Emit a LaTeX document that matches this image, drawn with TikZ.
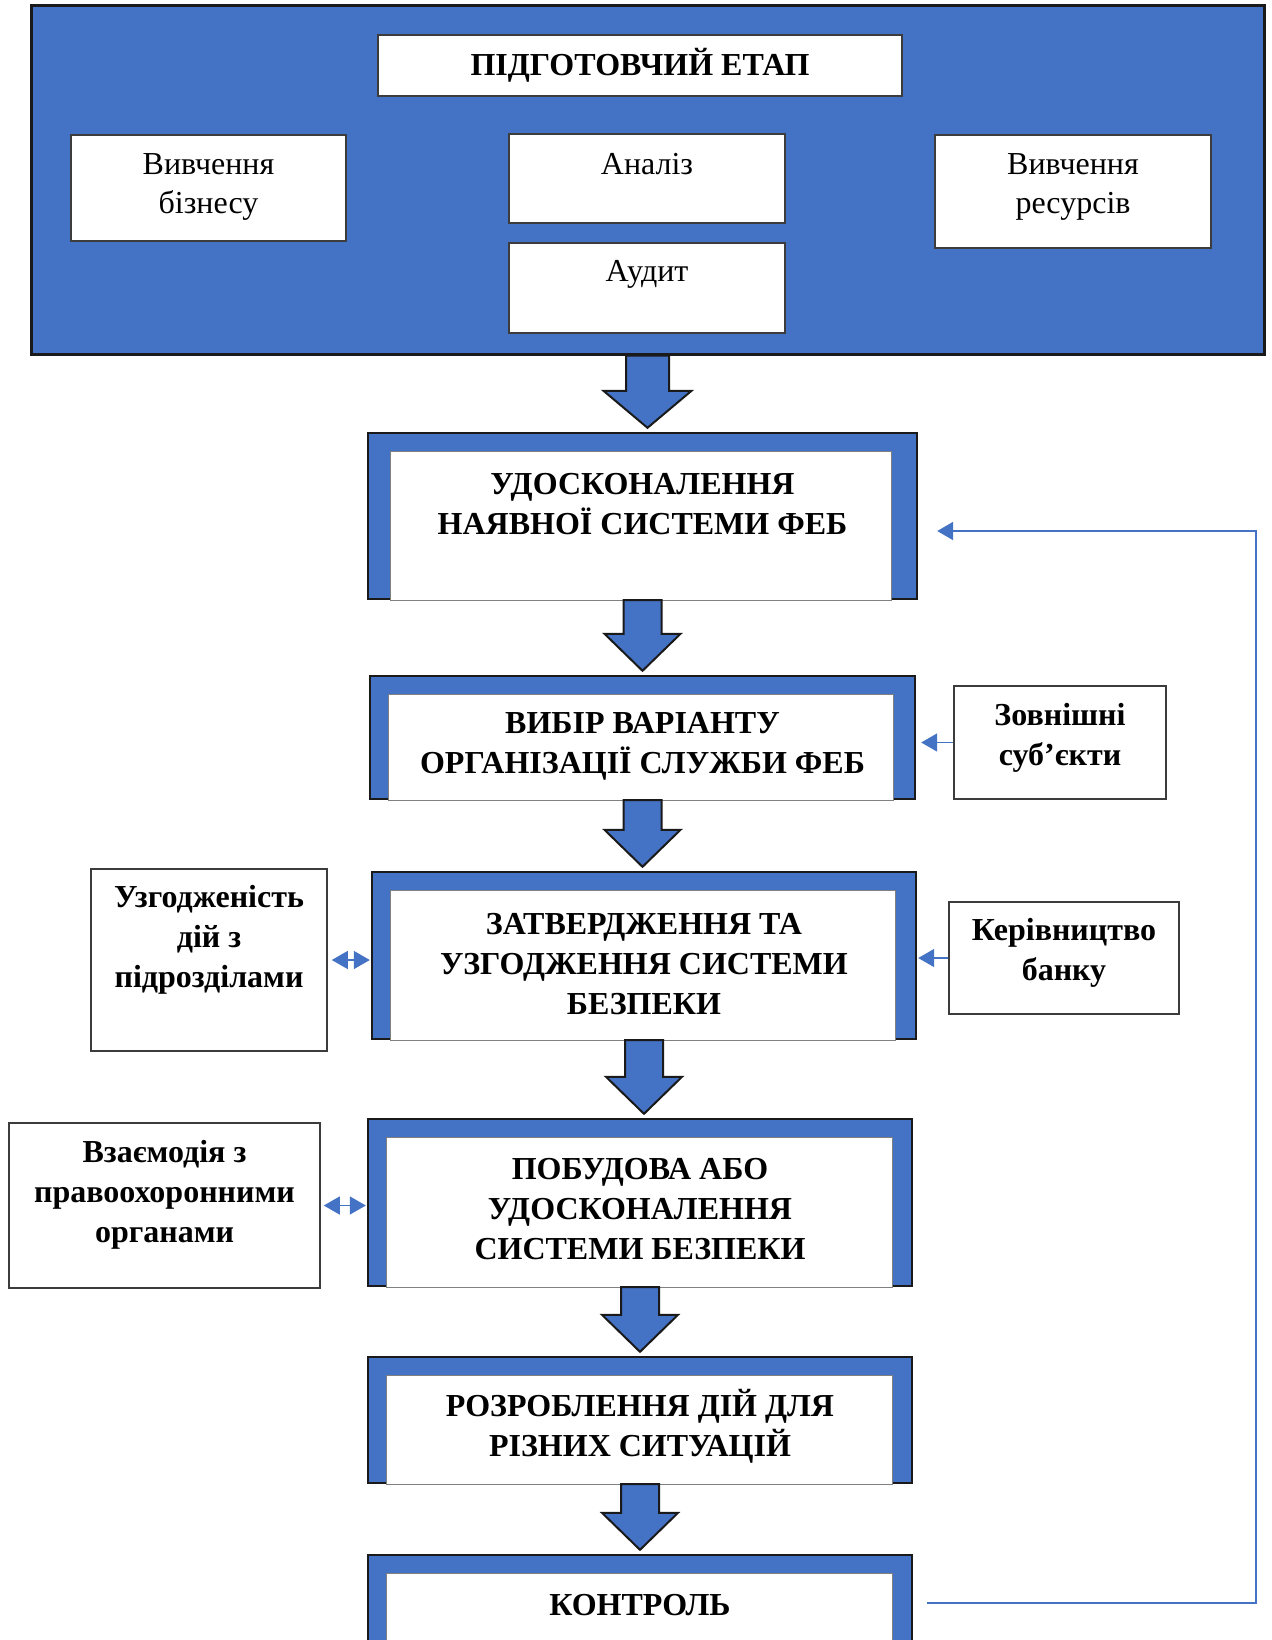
\documentclass[tikz,border=0pt]{standalone}
\usepackage{fontspec}
\setmainfont{Liberation Serif}
\usetikzlibrary{calc,arrows.meta}
\definecolor{ofblue}{HTML}{4472C4}
\definecolor{edge}{HTML}{1A1A1A}
\newcommand{\framein}[3]{\draw[draw=gray,line width=0.5pt,fill=white] ($(#1.south west)+(#2,0)$) rectangle ($(#1.north east)+(-#3,20)$);}
\newcommand{\blockarrow}[4]{%
 \draw[barrow] let \p1=(#1.south), \p2=(#2.north) in
  (\x1-#3pt,\y1) -- (\x1-#3pt,\y2+20.5pt) -- (\x1-#4pt,\y2+20.5pt) -- (\x1,\y2+2pt) -- (\x1+#4pt,\y2+20.5pt) -- (\x1+#3pt,\y2+20.5pt) -- (\x1+#3pt,\y1) -- cycle;}
\begin{document}
\begin{tikzpicture}[x=0.5pt,y=-0.5pt,
  bigbox/.style={draw=edge,line width=1.5pt,fill=ofblue,inner sep=0pt},
  wbox/.style={draw=edge!85,line width=0.8pt,fill=white,inner sep=0pt},
  frame/.style={draw=edge,line width=1.2pt,fill=ofblue,inner sep=0pt},
  plain/.style={font=\fontsize{16}{19.5}\selectfont,align=center,inner sep=0pt},
  bold/.style={font=\fontsize{16}{20}\selectfont\bfseries,align=center,inner sep=0pt},
  barrow/.style={draw=edge,line width=1pt,fill=ofblue,line join=miter},
  sarrow/.style={draw=ofblue,line width=0.75pt,-{Triangle[length=8pt,width=9pt]}},
  darrow/.style={draw=ofblue,line width=0.75pt,{Triangle[length=8pt,width=9pt]}-{Triangle[length=8pt,width=9pt]}},
  fback/.style={draw=ofblue,line width=1.1pt,-{Triangle[length=8pt,width=9pt]}},
]
\useasboundingbox (0,0) rectangle (1272,1640);
\clip (0,0) rectangle (1272,1640);
\fill[white] (0,0) rectangle (1272,1640);

% preparatory stage
\node[bigbox,minimum width=616.5pt,minimum height=174.5pt] (prep) at (647.5,179.5) {};
\node[wbox,minimum width=262pt,minimum height=30.5pt] (title) at (640,65.5) {};
\node[bold] (titlet) at (640,65) {ПІДГОТОВЧИЙ ЕТАП};
\node[wbox,minimum width=137.5pt,minimum height=53pt] (bus) at (208.5,188) {};
\node[plain] (bust) at (208.5,186.5) {Вивчення\\бізнесу};
\node[wbox,minimum width=138pt,minimum height=44.5pt] (an) at (647,178.5) {};
\node[plain] (ant) at (647,164) {Аналіз};
\node[wbox,minimum width=138pt,minimum height=45pt] (au) at (647,288) {};
\node[plain] (aut) at (647,274) {Аудит};
\node[wbox,minimum width=138pt,minimum height=56.5pt] (res) at (1073,191.5) {};
\node[plain] (rest) at (1073,186.5) {Вивчення\\ресурсів};

% main chain
\node[frame,minimum width=274.5pt,minimum height=83pt] (b1) at (642.5,516) {};
\framein{b1}{24}{27}
\node[bold] (b1t) at (642.5,504) {УДОСКОНАЛЕННЯ\\НАЯВНОЇ СИСТЕМИ ФЕБ};

\node[frame,minimum width=272.5pt,minimum height=61.5pt] (b2) at (642.5,737.5) {};
\framein{b2}{20}{23}
\node[bold] (b2t) at (642.5,746) {ВИБІР ВАРІАНТУ\\ОРГАНІЗАЦІЇ СЛУЖБИ ФЕБ};

\node[frame,minimum width=272pt,minimum height=83.5pt] (b3) at (644,955.5) {};
\framein{b3}{20}{22}
\node[bold] (b3t) at (644,964) {ЗАТВЕРДЖЕННЯ ТА\\УЗГОДЖЕННЯ СИСТЕМИ\\БЕЗПЕКИ};

\node[frame,minimum width=272pt,minimum height=83.5pt] (b4) at (640,1202.5) {};
\framein{b4}{20}{21}
\node[bold] (b4t) at (640,1209) {ПОБУДОВА АБО\\УДОСКОНАЛЕННЯ\\СИСТЕМИ БЕЗПЕКИ};

\node[frame,minimum width=272pt,minimum height=63pt] (b5) at (640,1420) {};
\framein{b5}{20}{21}
\node[bold] (b5t) at (640,1426) {РОЗРОБЛЕННЯ ДІЙ ДЛЯ\\РІЗНИХ СИТУАЦІЙ};

\node[frame,minimum width=272pt,minimum height=72.5pt] (b6) at (640,1627.5) {};
\framein{b6}{20}{21}
\node[bold] (b6t) at (640,1605) {КОНТРОЛЬ};

% side boxes
\node[wbox,minimum width=106pt,minimum height=56.5pt] (z) at (1060,742.5) {};
\node[bold] (zt) at (1060,737.5) {Зовнішні\\суб’єкти};
\node[wbox,minimum width=115pt,minimum height=56pt] (k) at (1064,958) {};
\node[bold] (kt) at (1064,953) {Керівництво\\банку};
\node[wbox,minimum width=118pt,minimum height=91pt] (u) at (209,960) {};
\node[bold] (ut) at (209,940) {Узгодженість\\дій з\\підрозділами};
\node[wbox,minimum width=155.5pt,minimum height=82.5pt] (v) at (164.5,1205.5) {};
\node[bold] (vt) at (164.5,1195) {Взаємодія з\\правоохоронними\\органами};

% block arrows
\blockarrow{prep}{b1}{10.75}{22}
\blockarrow{b1}{b2}{9.5}{19}
\blockarrow{b2}{b3}{9.5}{19}
\blockarrow{b3}{b4}{9.5}{19}
\blockarrow{b4}{b5}{9.5}{19}
\blockarrow{b5}{b6}{9.5}{19}

% small arrows
\draw[sarrow] (z.west) -- ($(b2.east |- z.west)+(5,0)$);
\draw[sarrow] (k.west) -- ($(b3.east |- k.west)+(1,0)$);
\draw[darrow] ($(u.east)+(4,0)$) -- ($(b3.west |- u.east)+(-1,0)$);
\draw[darrow] ($(v.east)+(3,0)$) -- ($(b4.west |- v.east)+(-1,0)$);

% feedback
\coordinate (fbA) at (1256,1603);
\coordinate (fbB) at (1256,531);
\draw[fback] ($(b6.east |- fbA)+(14,0)$) -- (fbA) -- (fbB) -- ($(b1.east |- fbB)+(19,0)$);
\end{tikzpicture}
\end{document}
